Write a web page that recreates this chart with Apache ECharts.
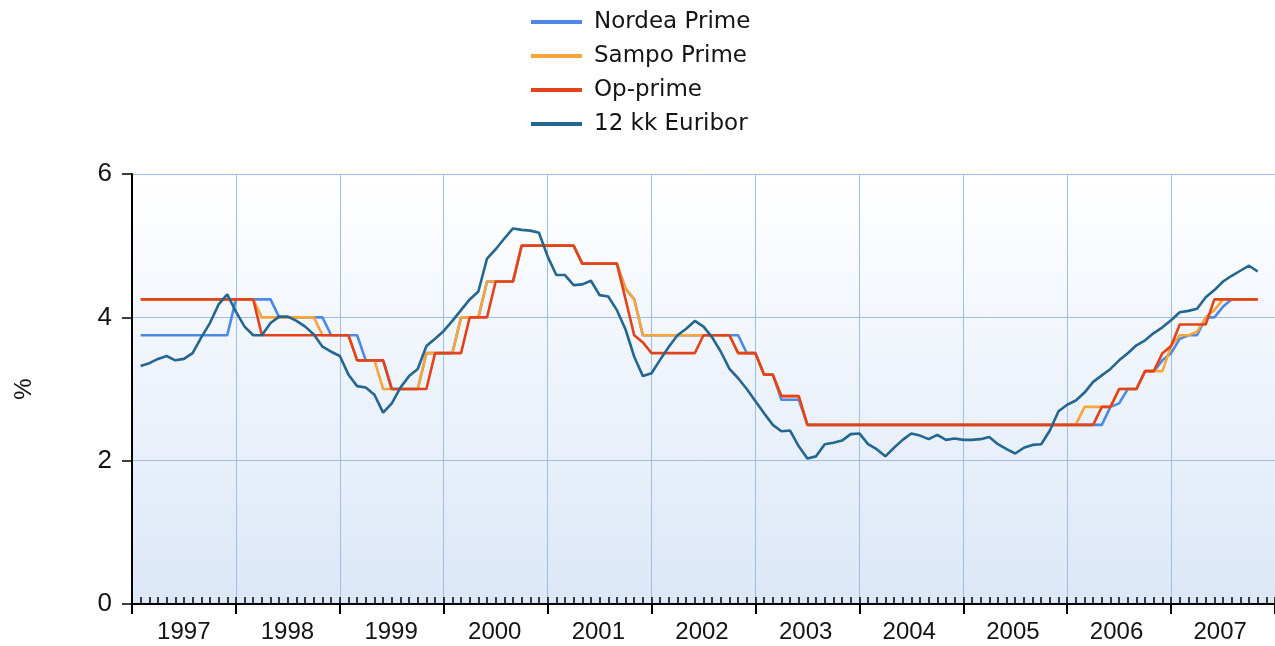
<!DOCTYPE html>
<html><head><meta charset="utf-8">
<script src="https://cdn.jsdelivr.net/npm/echarts@6/dist/echarts.min.js"></script>
<style>html,body{margin:0;padding:0;background:#fff}#c{width:1275px;height:646px}</style>
</head><body><div id="c"></div>
<script>
// Monthly data, Jan 1997 .. Oct 2007 (plotted at month end)
const yearLabels = ['1997','1998','1999','2000','2001','2002','2003','2004','2005','2006','2007'];
const seriesNames = ['Nordea Prime','Sampo Prime','Op-prime','12 kk Euribor'];

const nordea = [
3.75,3.75,3.75,3.75,3.75,3.75,3.75,3.75,3.75,3.75,3.75,
4.25,4.25,4.25,4.25,4.25,
4.0,4.0,4.0,4.0,4.0,4.0,
3.75,3.75,3.75,3.75,
3.4,3.4,3.4,
3.0,3.0,3.0,3.0,
3.5,3.5,3.5,3.5,
4.0,4.0,4.0,
4.5,4.5,4.5,4.5,
5.0,5.0,5.0,5.0,5.0,5.0,5.0,
4.75,4.75,4.75,4.75,4.75,
4.4,4.25,
3.75,3.75,3.75,3.75,3.75,3.75,3.75,3.75,3.75,3.75,3.75,3.75,
3.5,3.5,
3.2,3.2,
2.85,2.85,2.85,
2.5,2.5,2.5,2.5,2.5,2.5,2.5,2.5,2.5,2.5,2.5,2.5,2.5,2.5,2.5,2.5,2.5,2.5,2.5,2.5,2.5,2.5,2.5,2.5,2.5,2.5,2.5,2.5,2.5,2.5,2.5,2.5,2.5,2.5,2.5,
2.75,2.8,3.0,3.0,3.25,3.25,3.4,3.5,3.7,3.75,3.75,4.0,4.0,4.15,4.25,4.25,4.25,4.25
];

const sampo = [
4.25,4.25,4.25,4.25,4.25,4.25,4.25,4.25,4.25,4.25,4.25,4.25,4.25,4.25,
4.0,4.0,4.0,4.0,4.0,4.0,4.0,
3.75,3.75,3.75,3.75,
3.4,3.4,3.4,
3.0,3.0,3.0,3.0,3.0,
3.5,3.5,3.5,3.5,
4.0,4.0,4.0,
4.5,4.5,4.5,4.5,
5.0,5.0,5.0,5.0,5.0,5.0,5.0,
4.75,4.75,4.75,4.75,4.75,
4.4,4.25,
3.75,3.75,3.75,3.75,3.75,3.75,3.75,3.75,3.75,3.75,3.75,
3.5,3.5,3.5,
3.2,3.2,
2.9,2.9,2.9,
2.5,2.5,2.5,2.5,2.5,2.5,2.5,2.5,2.5,2.5,2.5,2.5,2.5,2.5,2.5,2.5,2.5,2.5,2.5,2.5,2.5,2.5,2.5,2.5,2.5,2.5,2.5,2.5,2.5,2.5,2.5,2.5,
2.75,2.75,2.75,2.75,
3.0,3.0,3.0,
3.25,3.25,3.25,
3.6,3.75,3.75,3.8,4.0,4.1,
4.25,4.25,4.25,4.25,4.25
];

const op = [
4.25,4.25,4.25,4.25,4.25,4.25,4.25,4.25,4.25,4.25,4.25,4.25,4.25,4.25,
3.75,3.75,3.75,3.75,3.75,3.75,3.75,3.75,3.75,3.75,3.75,
3.4,3.4,3.4,3.4,
3.0,3.0,3.0,3.0,3.0,
3.5,3.5,3.5,3.5,
4.0,4.0,4.0,
4.5,4.5,4.5,
5.0,5.0,5.0,5.0,5.0,5.0,5.0,
4.75,4.75,4.75,4.75,4.75,
4.25,3.75,3.65,
3.5,3.5,3.5,3.5,3.5,3.5,
3.75,3.75,3.75,3.75,
3.5,3.5,3.5,
3.2,3.2,
2.9,2.9,2.9,
2.5,2.5,2.5,2.5,2.5,2.5,2.5,2.5,2.5,2.5,2.5,2.5,2.5,2.5,2.5,2.5,2.5,2.5,2.5,2.5,2.5,2.5,2.5,2.5,2.5,2.5,2.5,2.5,2.5,2.5,2.5,2.5,2.5,2.5,
2.75,2.75,
3.0,3.0,3.0,
3.25,3.25,
3.5,3.6,
3.9,3.9,3.9,3.9,
4.25,4.25,4.25,4.25,4.25,4.25
];

const euribor = [
3.32,3.36,3.42,3.46,3.40,3.42,3.50,3.72,3.92,4.18,
4.32,4.08,3.87,3.75,3.75,3.92,4.01,4.01,3.95,3.87,
3.76,3.59,3.52,3.46,3.20,3.04,3.02,2.92,2.67,2.80,
3.02,3.18,3.28,3.60,3.70,3.81,3.95,4.10,4.25,4.36,
4.82,4.95,5.10,5.24,5.22,5.21,5.18,4.85,4.59,4.59,
4.45,4.46,4.51,4.31,4.29,4.10,3.83,3.45,3.18,3.22,
3.41,3.59,3.75,3.84,3.95,3.87,3.72,3.52,3.28,3.15,
3.00,2.83,2.66,2.50,2.41,2.42,2.20,2.03,2.06,2.23,
2.25,2.28,2.37,2.38,2.23,2.16,2.06,2.18,2.29,2.38,
2.35,2.30,2.36,2.29,2.31,2.29,2.29,2.30,2.33,2.23,
2.16,2.10,2.18,2.22,2.23,2.42,2.69,2.78,2.84,2.95,
3.10,3.19,3.28,3.40,3.50,3.61,3.68,3.78,3.86,3.96,
4.07,4.09,4.12,4.28,4.38,4.50,4.58,4.65,4.72,4.64
];

const colors = ['#4a8ae6','#f9a53a','#e3431b','#236690'];
const allSeries = [nordea, sampo, op, euribor];

const chart = echarts.init(document.getElementById('c'), null, {renderer:'canvas'});
const G = {left:132, right:-3, top:174, bottom:42, containLabel:false};
const gridColor = '#9fbde9';
const textColor = '#141414';

chart.setOption({
  animation:false,
  backgroundColor:'#ffffff',
  legend:{
    orient:'vertical', left:526, top:5,
    itemWidth:51, itemHeight:4, itemGap:10, icon:'rect',
    textStyle:{fontSize:23, fontFamily:'DejaVu Sans', color:textColor, lineHeight:24, padding:[0,0,0,7]},
    data: seriesNames
  },
  grid:[
    Object.assign({show:true, borderWidth:0, borderColor:'transparent',
      backgroundColor:{type:'linear',x:0,y:0,x2:0,y2:1,colorStops:[{offset:0,color:'#ffffff'},{offset:1,color:'#dbe7f7'}]}}, G),
    Object.assign({}, G),
    Object.assign({}, G)
  ],
  xAxis:[
    {gridIndex:0, type:'value', min:0, max:132, interval:12,
      axisLine:{show:true, onZero:false, lineStyle:{color:'#000', width:2}},
      axisTick:{show:true, length:10, lineStyle:{color:'#000', width:2}},
      axisLabel:{show:false},
      splitLine:{show:true, lineStyle:{color:gridColor, width:1}}},
    {gridIndex:1, type:'value', min:0, max:132, interval:1,
      axisLine:{show:false, onZero:false},
      axisTick:{show:true, inside:true, length:7, lineStyle:{color:'#000', width:1.5}},
      axisLabel:{show:false}, splitLine:{show:false}},
    {gridIndex:2, type:'value', min:0, max:132, interval:6,
      axisLine:{show:false, onZero:false}, axisTick:{show:false},
      axisLabel:{show:true, margin:16, fontSize:24, fontFamily:'Liberation Sans', color:textColor,
        formatter:function(v){ return (v % 12 === 6) ? yearLabels[(v-6)/12] : ''; }},
      splitLine:{show:false}}
  ],
  yAxis:[
    {gridIndex:0, type:'value', min:0, max:6, interval:2,
      name:'%', nameLocation:'middle', nameRotate:90, nameGap:96,
      nameTextStyle:{fontSize:24, fontFamily:'Liberation Sans', color:textColor},
      axisLine:{show:true, onZero:false, lineStyle:{color:'#000', width:2}},
      axisTick:{show:true, length:10, lineStyle:{color:'#000', width:1.5}},
      axisLabel:{fontSize:26, fontFamily:'Liberation Sans', color:textColor, margin:20},
      splitLine:{show:true, lineStyle:{color:gridColor, width:1}}},
    {gridIndex:1, type:'value', min:0, max:6, show:false},
    {gridIndex:2, type:'value', min:0, max:6, show:false}
  ],
  series: allSeries.map(function(arr, k){
    return {
      name: seriesNames[k], type:'line', xAxisIndex:0, yAxisIndex:0,
      showSymbol:false, symbol:'none',
      lineStyle:{width:2.6, color:colors[k]}, itemStyle:{color:colors[k]},
      data: arr.map(function(v,i){ return [i+1, v]; })
    };
  })
});
</script>
</body></html>
